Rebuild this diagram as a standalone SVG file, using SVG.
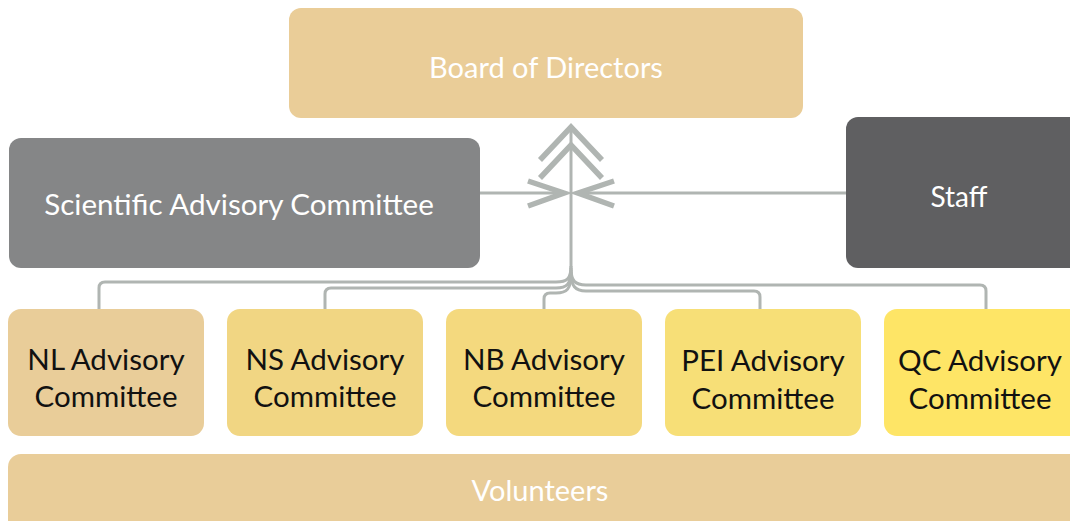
<svg xmlns="http://www.w3.org/2000/svg" width="1070" height="521" viewBox="0 0 1070 521">
<style>
.t{font-family:Lato,"Open Sans","DejaVu Sans",sans-serif;text-anchor:middle}
.w{fill:#ffffff}
.k{fill:#111111}
.ln{fill:none;stroke:#b0b5b2;stroke-width:3}
.ah{fill:none;stroke:#b0b5b2;stroke-width:5.5;stroke-linecap:butt;stroke-linejoin:miter}
</style>
<rect width="1070" height="521" fill="#ffffff"/>
<g id="connectors">
<path class="ln" d="M571 126 V276"/>
<path class="ah" d="M540 160 L571 127 L602 160"/>
<path class="ah" d="M540 178 L571 145 L602 178"/>
<path class="ln" d="M476 193 H563"/>
<path class="ah" d="M528 181 L564 193 L528 206"/>
<path class="ln" d="M579 193 H848"/>
<path class="ah" d="M614 181 L578 193 L614 206"/>
<path class="ln" d="M571 266 C571 279 567 282 556 282 H105 Q99 282 99 288 V311"/>
<path class="ln" d="M571 270 C571 284 567 288 556 288 H331 Q325 288 325 294 V311"/>
<path class="ln" d="M571 274 C571 289 567 293 556 293 H550 Q544 293 544 299 V311"/>
<path class="ln" d="M571 268 C571 281 575 285 586 285 H980 Q986 285 986 291 V311"/>
<path class="ln" d="M571 272 C571 286 575 291 586 291 H754 Q760 291 760 297 V311"/>
</g>
<g id="board">
<rect x="289" y="8" width="514" height="110" rx="12" fill="#eacd98"/>
<text class="t w" x="546" y="78" font-size="29">Board of Directors</text>
</g>
<g id="sac">
<rect x="9" y="138" width="471" height="130" rx="12" fill="#858687"/>
<text class="t w" x="239" y="215" font-size="29.6">Scientific Advisory Committee</text>
</g>
<g id="staff">
<rect x="846" y="117" width="240" height="151" rx="12" fill="#5f5f61"/>
<text class="t w" x="959" y="207" font-size="28">Staff</text>
</g>
<g id="nl">
<rect x="8" y="309" width="196" height="127" rx="13" fill="#e9cd99"/>
<text class="t k" x="106" y="370" font-size="29.5">NL Advisory</text>
<text class="t k" x="106" y="407" font-size="29.5">Committee</text>
</g>
<g id="ns">
<rect x="227" y="309" width="196" height="127" rx="13" fill="#f1d683"/>
<text class="t k" x="325" y="370" font-size="29.5">NS Advisory</text>
<text class="t k" x="325" y="407" font-size="29.5">Committee</text>
</g>
<g id="nb">
<rect x="446" y="309" width="196" height="127" rx="13" fill="#f4d97e"/>
<text class="t k" x="544" y="370" font-size="29.5">NB Advisory</text>
<text class="t k" x="544" y="407" font-size="29.5">Committee</text>
</g>
<g id="pei">
<rect x="665" y="309" width="196" height="127" rx="13" fill="#f7df77"/>
<text class="t k" x="763" y="371" font-size="29.5">PEI Advisory</text>
<text class="t k" x="763" y="409" font-size="29.5">Committee</text>
</g>
<g id="qc">
<rect x="884" y="309" width="200" height="127" rx="13" fill="#fee566"/>
<text class="t k" x="980" y="371" font-size="29.5">QC Advisory</text>
<text class="t k" x="980" y="409" font-size="29.5">Committee</text>
</g>
<g id="volunteers">
<rect x="8" y="454" width="1074" height="80" rx="13" fill="#e9cd99"/>
<text class="t w" x="540" y="501" font-size="29">Volunteers</text>
</g>
</svg>
